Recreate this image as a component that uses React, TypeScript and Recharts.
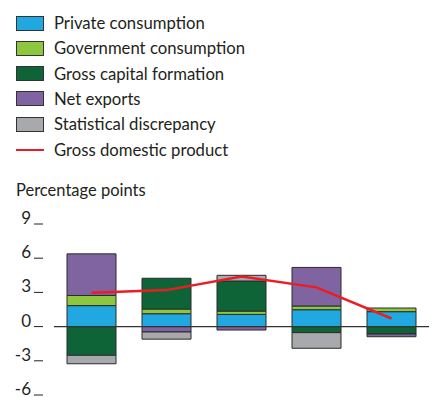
import React from 'react'
import {
  ComposedChart,
  Bar,
  Line,
  XAxis,
  YAxis,
  ReferenceLine,
} from 'recharts'

// values (percentage points)
const periods = ['P1', 'P2', 'P3', 'P4', 'P5']
const privateConsumption = [1.84, 1.13, 1.07, 1.48, 1.31]
const governmentConsumption = [0.89, 0.41, 0.29, 0.33, 0.32]
const grossCapitalFormation = [-2.52, 2.7, 2.64, -0.53, -0.65]
const netExports = [3.65, -0.47, -0.3, 3.38, -0.24]
const statisticalDiscrepancy = [-0.74, -0.63, 0.5, -1.37, 0]
const gdp = [2.97, 3.2, 4.39, 3.44, 0.71]
const yTicks = [-6, -3, 0, 3, 6, 9]

const series = [
  { key: 'pc', name: 'Private consumption', color: '#22a8e0' },
  { key: 'gc', name: 'Government consumption', color: '#8dc63f' },
  { key: 'gcf', name: 'Gross capital formation', color: '#0e6437' },
  { key: 'ne', name: 'Net exports', color: '#8064a2' },
  { key: 'sd', name: 'Statistical discrepancy', color: '#a7a9ac' },
]
const lineColor = '#ed1c24'
const textColor = '#231f20'
const font = 'Lato, "Noto Sans", sans-serif'

const data = periods.map((p, i) => ({
  period: p,
  pc: privateConsumption[i],
  gc: governmentConsumption[i],
  gcf: grossCapitalFormation[i],
  ne: netExports[i],
  sd: statisticalDiscrepancy[i],
  gdp: gdp[i],
}))

// label sits on the baseline with a short dash after it, like the print style
function YTick({ y, payload }: any) {
  return (
    <g>
      <text
        x={31}
        y={y}
        textAnchor="end"
        fontSize={17}
        fontFamily={font}
        fill={textColor}
      >
        {payload.value}
      </text>
      <line x1={34} x2={43} y1={y} y2={y} stroke={textColor} strokeWidth={1} />
    </g>
  )
}

function LegendBlock() {
  const rows = [
    ...series.map((s) => ({ name: s.name, color: s.color, line: false })),
    { name: 'Gross domestic product', color: lineColor, line: true },
  ]
  return (
    <div style={{ position: 'absolute', left: 0, top: 0 }}>
      {rows.map((r, i) => (
        <div
          key={r.name}
          style={{
            position: 'absolute',
            left: 16,
            top: 23 + i * 25.3 - 12,
            height: 24,
            display: 'flex',
            alignItems: 'center',
            whiteSpace: 'nowrap',
            fontFamily: font,
            fontSize: 16.7,
            color: textColor,
          }}
        >
          {r.line ? (
            <span style={{ width: 28, height: 2, background: r.color, display: 'inline-block' }} />
          ) : (
            <span
              style={{
                width: 26,
                height: 13,
                background: r.color,
                border: '1px solid #333',
                display: 'inline-block',
              }}
            />
          )}
          <span style={{ marginLeft: 10 }}>{r.name}</span>
        </div>
      ))}
    </div>
  )
}

export default function App() {
  return (
    <div
      style={{
        position: 'absolute',
        left: 0,
        top: 0,
        width: 440,
        height: 397,
        background: '#fff',
        overflow: 'hidden',
      }}
    >
      <LegendBlock />
      <div
        style={{
          position: 'absolute',
          left: 16,
          top: 180,
          fontFamily: font,
          fontSize: 16.5,
          color: textColor,
        }}
      >
        Percentage points
      </div>
      <ComposedChart
        width={440}
        height={397}
        data={data}
        stackOffset="sign"
        margin={{ top: 224, right: 11, left: 0, bottom: 2 }}
        style={{ position: 'absolute', left: 0, top: 0 }}
      >
        <XAxis dataKey="period" hide />
        <YAxis
          width={54}
          domain={[-6, 9]}
          ticks={yTicks}
          interval={0}
          axisLine={false}
          tickLine={false}
          tick={<YTick />}
          allowDataOverflow
        />
        {series.map((s) => (
          <Bar
            key={s.key}
            dataKey={s.key}
            name={s.name}
            stackId="a"
            fill={s.color}
            stroke="#2b2b2b"
            strokeWidth={1}
            barSize={49}
            isAnimationActive={false}
          />
        ))}
        <ReferenceLine y={0} stroke="#333" strokeWidth={1.2} />
        <Line
          dataKey="gdp"
          name="Gross domestic product"
          type="linear"
          stroke={lineColor}
          strokeWidth={2.5}
          dot={false}
          isAnimationActive={false}
        />
      </ComposedChart>
    </div>
  )
}
